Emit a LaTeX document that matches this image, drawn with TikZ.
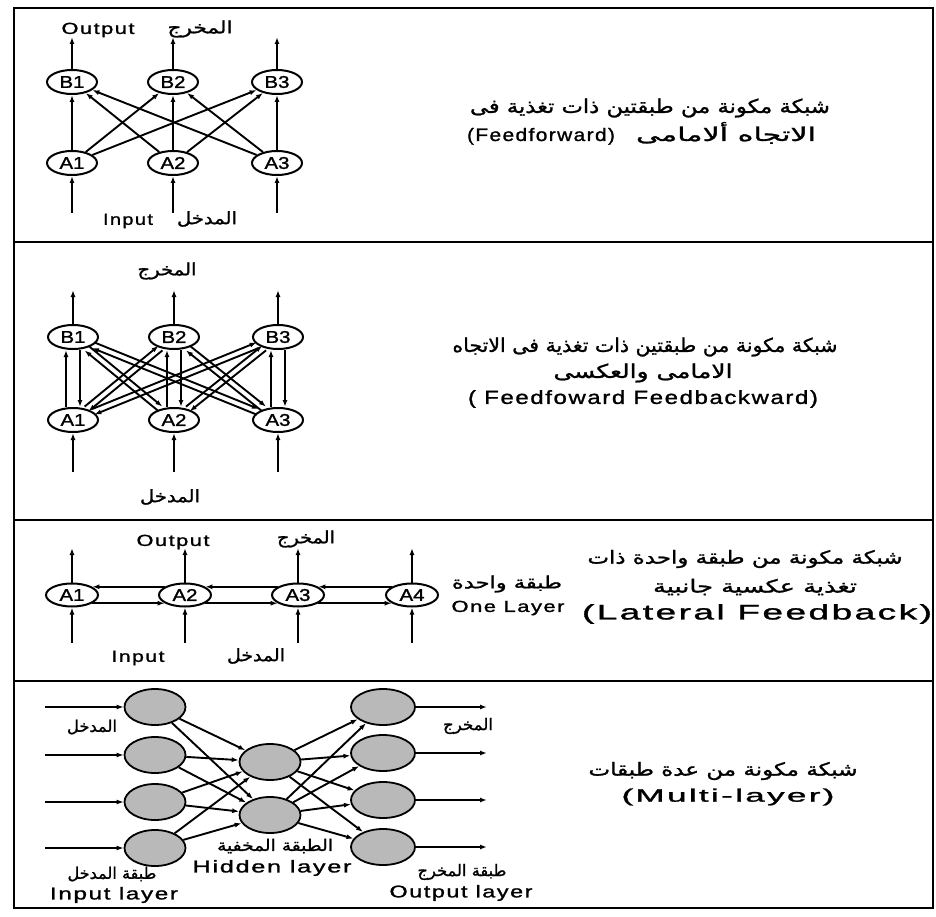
\documentclass[tikz,border=0pt]{standalone}
\usepackage{fontspec}
\usepackage{graphicx}
\usetikzlibrary{arrows.meta,shapes.geometric,calc}
\TeXXeTstate=1
\setmainfont{Liberation Sans}
\newfontfamily\lat[FakeStretch=1.2,FakeBold=1.5]{Liberation Sans}
\newfontfamily\latw[FakeStretch=1.2,LetterSpace=8,FakeBold=1.3]{Liberation Sans}
\newfontfamily\arabicfont[Script=Arabic,FakeBold=1.2]{DejaVu Sans}
\newcommand\fitw[2]{\resizebox{#1}{\height}{#2}}
\newcommand\Lt[3]{\fitw{#1pt}{\latw\fontsize{#2pt}{#2pt}\selectfont #3}}
\newcommand\At[3]{\fitw{#1pt}{\arabicfont\fontsize{#2pt}{#2pt}\selectfont #3}}
\newcommand\twoway[3]{%
  \path (#1) -- (#2) coordinate[pos=0] (twS) coordinate[pos=1] (twE);
  \draw[arr] ($(twS)!#3!90:(twE)$) -- ($(twE)!#3!-90:(twS)$);
  \draw[arr] ($(twE)!#3!90:(twS)$) -- ($(twS)!#3!-90:(twE)$);
}
\begin{document}
\begin{tikzpicture}[x=1pt,y=-1pt,
  neuron/.style={ellipse,draw,line width=2pt,minimum width=50pt,minimum height=24pt,inner sep=0pt,font=\lat\fontsize{17pt}{17pt}\selectfont},
  gneuron/.style={ellipse,draw,line width=1.8pt,fill=gray!55,minimum width=61pt,minimum height=36pt,inner sep=0pt},
  arr/.style={-{Latex[length=7pt,width=5pt]},line width=1.9pt},
  txt/.style={inner sep=0pt,anchor=center},
  frame/.style={line width=2.4pt}]
\useasboundingbox (0,0) rectangle (936,917);
% frame
\draw[frame] (14,8) rectangle (933,908);
\draw[frame] (14,242) -- (933,242);
\draw[frame] (14,520) -- (933,520);
\draw[frame] (14,681) -- (933,681);

% ---------- panel 1 ----------
\node[neuron] (pB1) at (72,82) {B1};
\node[neuron] (pB2) at (173,82) {B2};
\node[neuron] (pB3) at (277,82) {B3};
\node[neuron] (pA1) at (72,163) {A1};
\node[neuron] (pA2) at (173,163) {A2};
\node[neuron] (pA3) at (277,163) {A3};
\foreach \i/\x in {1/72,2/173,3/277}{
  \coordinate (po\i) at (\x,37);
  \coordinate (pi\i) at (\x,213);
  \draw[arr] (pB\i) -- (po\i);
  \draw[arr] (pi\i) -- (pA\i);
}
\foreach \a in {1,2,3}{\foreach \b in {1,2,3}{\draw[arr] (pA\a) -- (pB\b);}}
\node[txt] (t1out) at (98,30) {\Lt{73}{16}{Output}};
\node[txt] (t1outa) at (200,29) {\At{65}{17}{\beginR المخرج\endR}};
\node[txt] (t1in) at (128,221) {\Lt{50}{16}{Input}};
\node[txt] (t1ina) at (207,219) {\At{60}{17}{\beginR المدخل\endR}};
\node[txt] (t1r1) at (650,108) {\At{360}{19}{\beginR شبكة مكونة من طبقتين ذات تغذية فى\endR}};
\node[txt,anchor=base] (t1r2) at (726,141) {\At{180}{19}{\beginR الاتجاه ألامامى\endR}};
\node[txt,anchor=base] (t1r3) at (541,141) {\Lt{148}{18}{(Feedforward)}};

% ---------- panel 2 ----------
\node[neuron] (qB1) at (73,337) {B1};
\node[neuron] (qB2) at (174,337) {B2};
\node[neuron] (qB3) at (278,337) {B3};
\node[neuron] (qA1) at (73,420) {A1};
\node[neuron] (qA2) at (174,420) {A2};
\node[neuron] (qA3) at (278,420) {A3};
\foreach \i/\x in {1/73,2/174,3/278}{
  \coordinate (qo\i) at (\x,290);
  \coordinate (qi\i) at (\x,472);
  \draw[arr] (qB\i) -- (qo\i);
  \draw[arr] (qi\i) -- (qA\i);
}
\twoway{qA1}{qB1}{7pt}
\twoway{qA2}{qB2}{7pt}
\twoway{qA3}{qB3}{7pt}
\twoway{qA1}{qB2}{3pt}
\twoway{qA1}{qB3}{3pt}
\twoway{qA2}{qB1}{3pt}
\twoway{qA2}{qB3}{3pt}
\twoway{qA3}{qB1}{3pt}
\twoway{qA3}{qB2}{3pt}
\node[txt] (t2outa) at (167,271) {\At{59}{17}{\beginR المخرج\endR}};
\node[txt] (t2ina) at (170,497) {\At{60}{17}{\beginR المدخل\endR}};
\node[txt] (t2r1) at (645,347) {\At{385}{19}{\beginR شبكة مكونة من طبقتين ذات تغذية فى الاتجاه\endR}};
\node[txt] (t2r2) at (643,373) {\At{179}{19}{\beginR الامامى والعكسى\endR}};
\node[txt] (t2r3) at (643,399) {\Lt{350}{19}{( Feedfoward Feedbackward)}};

% ---------- panel 3 ----------
\foreach \i/\x in {1/72,2/185,3/298,4/412}{
  \node[neuron,minimum width=52pt,minimum height=23pt] (rA\i) at (\x,595) {A\i};
  \coordinate (ro\i) at (\x,548);
  \coordinate (ri\i) at (\x,643);
  \draw[arr] (rA\i) -- (ro\i);
  \draw[arr] (ri\i) -- (rA\i);
}
\foreach \a/\b in {1/2,2/3,3/4}{
  \draw[arr] (rA\b.158) -- (rA\a.22);
  \draw[arr] (rA\a.-22) -- (rA\b.-158);
}
\node[txt] (t3out) at (173,542) {\Lt{73}{16}{Output}};
\node[txt] (t3outa) at (306,539) {\At{58}{17}{\beginR المخرج\endR}};
\node[txt] (t3in) at (138,658) {\Lt{53}{16}{Input}};
\node[txt] (t3ina) at (256,656) {\At{58}{17}{\beginR المدخل\endR}};
\node[txt] (t3la) at (507,584) {\At{110}{17}{\beginR طبقة واحدة\endR}};
\node[txt] (t3l) at (508,608) {\Lt{113}{16}{One Layer}};
\node[txt] (t3r1) at (745,559) {\At{315}{18}{\beginR شبكة مكونة من طبقة واحدة ذات\endR}};
\node[txt] (t3r2) at (755,587) {\At{204}{18}{\beginR تغذية عكسية جانبية\endR}};
\node[txt] (t3r3) at (757,614) {\Lt{350}{21}{(Lateral Feedback)}};

% ---------- panel 4 ----------
\foreach \i/\y in {1/707,2/755,3/802,4/848}{
  \node[gneuron] (sI\i) at (155,\y) {};
  \coordinate (si\i) at (45,\y);
  \draw[arr] (si\i) -- (sI\i);
}
\node[gneuron] (sH1) at (270,762) {};
\node[gneuron] (sH2) at (270,815) {};
\foreach \i/\y in {1/707,2/753,3/800,4/847}{
  \node[gneuron,minimum width=64pt] (sO\i) at (383,\y) {};
  \coordinate (so\i) at (487,\y);
  \draw[arr] (sO\i) -- (so\i);
}
\foreach \i in {1,2,3,4}{
  \draw[arr] (sI\i) -- (sH1);
  \draw[arr] (sI\i) -- (sH2);
  \draw[arr] (sH1) -- (sO\i);
  \draw[arr] (sH2) -- (sO\i);
}
\node[txt] (t4ina) at (92,727) {\At{50}{16}{\beginR المدخل\endR}};
\node[txt] (t4outa) at (468,726) {\At{50}{16}{\beginR المخرج\endR}};
\node[txt] (t4ila) at (112,874) {\At{89}{16}{\beginR طبقة المدخل\endR}};
\node[txt] (t4il) at (114,895) {\Lt{128}{17}{Input layer}};
\node[txt] (t4hla) at (275,846) {\At{116}{16}{\beginR الطبقة المخفية\endR}};
\node[txt] (t4hl) at (272,868) {\Lt{159}{17}{Hidden layer}};
\node[txt] (t4ola) at (462,872) {\At{89}{16}{\beginR طبقة المخرج\endR}};
\node[txt] (t4ol) at (461,893) {\Lt{143}{17}{Output layer}};
\node[txt] (t4r1) at (723,771) {\At{269}{18}{\beginR شبكة مكونة من عدة طبقات\endR}};
\node[txt] (t4r2) at (728,797) {\Lt{213}{18}{(Multi-layer)}};
\end{tikzpicture}
\end{document}
